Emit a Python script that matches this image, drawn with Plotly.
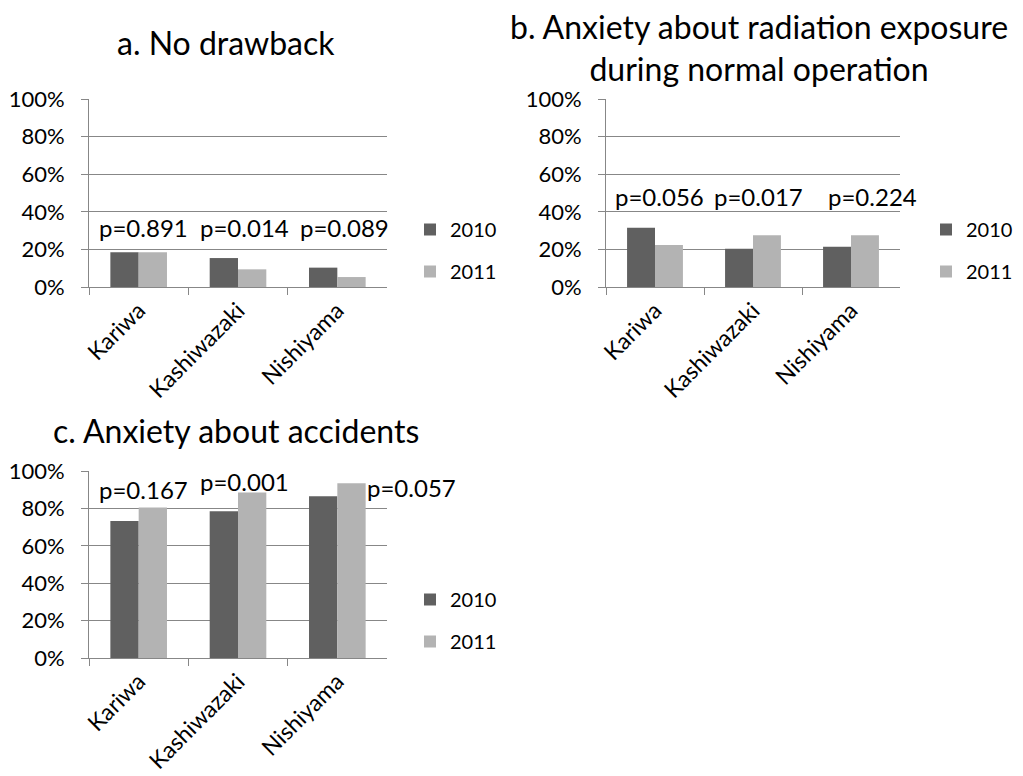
import plotly.graph_objects as go

PAGE_W, PAGE_H = 1023, 776
OFF = 8  # default body margin of the html page
W, H = PAGE_W - OFF, PAGE_H - OFF
FONT = "Lato"
DARK = "#606060"
LIGHT = "#b3b3b3"
GRID = "#878787"

categories = ["Kariwa", "Kashiwazaki", "Nishiyama"]
years = ["2010", "2011"]

a_2010 = [18.5, 15.4, 10.3]
a_2011 = [18.5, 9.4, 5.3]
b_2010 = [31.5, 20.4, 21.4]
b_2011 = [22.3, 27.5, 27.5]
c_2010 = [73.3, 78.5, 86.5]
c_2011 = [80.5, 88.5, 93.4]

a_p = ["p=0.891", "p=0.014", "p=0.089"]
b_p = ["p=0.056", "p=0.017", "p=0.224"]
c_p = ["p=0.167", "p=0.001", "p=0.057"]

title_a = "a. No drawback"
title_b = "b. Anxiety about radiation exposure<br>during normal operation"
title_c = "c. Anxiety about accidents"

y_ticks = [0, 20, 40, 60, 80, 100]
y_ticktext = [f"{v}%" for v in y_ticks]


def px(x):
    return (x - OFF) / W


def py(y):
    return 1 - (y - OFF) / H


# panel geometry in page pixels (left, right, top, bottom)
panels = [
    dict(x0=89, x1=387, y0=99, y1=287),
    dict(x0=606, x1=900, y0=99, y1=287),
    dict(x0=89, x1=387, y0=471, y1=658),
]

data = [(a_2010, a_2011), (b_2010, b_2011), (c_2010, c_2011)]
legends = ["legend", "legend2", "legend3"]

fig = go.Figure()
for i, (v10, v11) in enumerate(data):
    ax = "" if i == 0 else str(i + 1)
    for yr, vals, col in zip(years, (v10, v11), (DARK, LIGHT)):
        fig.add_trace(go.Bar(
            x=categories, y=vals, name=yr, marker=dict(color=col, line=dict(width=0)),
            xaxis="x" + ax, yaxis="y" + ax, legend=legends[i], legendgroup=f"{yr}_{i}",
            showlegend=True,
        ))

layout = dict(
    width=W, height=H, margin=dict(l=0, r=0, t=0, b=0, pad=0, autoexpand=False),
    paper_bgcolor="white", plot_bgcolor="white",
    barmode="group", bargap=0.43, bargroupgap=0,
    font=dict(family=FONT, size=20, color="black"),
    showlegend=True,
)

for i, p in enumerate(panels):
    ax = "" if i == 0 else str(i + 1)
    layout["xaxis" + ax] = dict(
        domain=[px(p["x0"]), px(p["x1"])], anchor="y" + ax, type="category",
        range=[-0.5, 2.5], tickson="boundaries", ticks="outside", ticklen=7,
        tickcolor=GRID, showline=True, linecolor=GRID, linewidth=1,
        tickangle=-45, showgrid=False, tickfont=dict(size=23, family=FONT, color="black"),
        fixedrange=True, automargin=False,
    )
    layout["yaxis" + ax] = dict(
        domain=[py(p["y1"]), py(p["y0"])], anchor="x" + ax,
        range=[0, 100], tickvals=y_ticks, ticktext=y_ticktext,
        ticks="outside", ticklen=7, tickcolor=GRID, showline=True,
        linecolor=GRID, linewidth=1, showgrid=True, gridcolor=GRID, gridwidth=1,
        zeroline=False, tickfont=dict(size=22, family=FONT, color="black"),
        ticklabelstandoff=12, fixedrange=True, automargin=False,
    )

leg_pos = [(410, 210), (926, 210), (410, 580)]
for name, (lx, ly) in zip(legends, leg_pos):
    layout[name] = dict(
        x=px(lx), y=py(ly), xanchor="left", yanchor="top",
        font=dict(size=20, family=FONT, color="black"), bgcolor="rgba(0,0,0,0)",
        tracegroupgap=13, itemwidth=30, traceorder="grouped",
    )

fig.update_layout(**layout)

# p-value labels
p_sets = [a_p, b_p, c_p]
p_y = [[31.4, 31.4, 31.4], [48.0, 48.0, 48.0], [90.2, 94.5, 91.3]]
p_xshift = [[5, 6, 7], [4, 5, 21], [5, 6, 74]]
for i, (labels, ys, xs) in enumerate(zip(p_sets, p_y, p_xshift)):
    ax = "" if i == 0 else str(i + 1)
    for k, (lab, yv, xsft) in enumerate(zip(labels, ys, xs)):
        fig.add_annotation(x=k, y=yv, xref="x" + ax, yref="y" + ax, text=lab,
                           showarrow=False, xshift=xsft,
                           font=dict(size=24, family=FONT, color="black"))

# titles
title_items = [(title_a, 226, 42, 32), (title_b, 759, 47, 32), (title_c, 236, 430, 32)]
for t, tx, ty, fs in title_items:
    fig.add_annotation(x=px(tx), y=py(ty), xref="paper", yref="paper", text=t,
                       showarrow=False, xanchor="center", yanchor="middle", align="center",
                       font=dict(size=fs, family=FONT, color="black"))

fig.write_html("out.html")
